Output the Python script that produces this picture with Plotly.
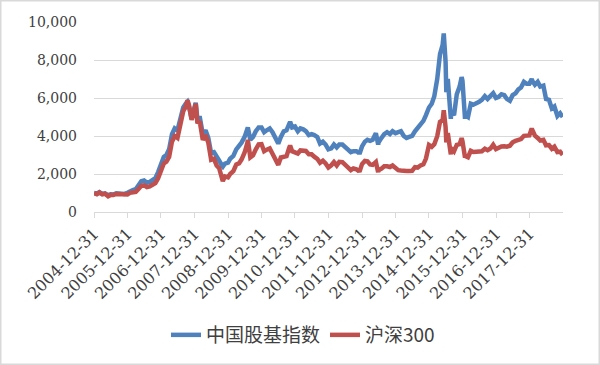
import plotly.graph_objects as go

dates = [
    "2004-12-31",
    "2005-01-31", "2005-02-28", "2005-03-31", "2005-04-29", "2005-05-31", "2005-06-03", "2005-06-30",
    "2005-07-29", "2005-08-31", "2005-09-30", "2005-10-31", "2005-11-30", "2005-12-30",
    "2006-01-26", "2006-02-28", "2006-03-31", "2006-04-28", "2006-05-31", "2006-06-30",
    "2006-07-31", "2006-08-31", "2006-09-29", "2006-10-31", "2006-11-30", "2006-12-29",
    "2007-01-31", "2007-02-28", "2007-03-30", "2007-04-30", "2007-05-30", "2007-06-29",
    "2007-07-31", "2007-08-31", "2007-09-28", "2007-10-16", "2007-10-31", "2007-11-30", "2007-12-28",
    "2008-01-14", "2008-01-31", "2008-02-29", "2008-03-31", "2008-04-30", "2008-05-30", "2008-06-30",
    "2008-07-31", "2008-08-29", "2008-09-26", "2008-10-31", "2008-11-04", "2008-11-28", "2008-12-31",
    "2009-01-23", "2009-02-27", "2009-03-31", "2009-04-30", "2009-05-27", "2009-06-30",
    "2009-07-31", "2009-08-04", "2009-08-31", "2009-09-30", "2009-10-30", "2009-11-30", "2009-12-31",
    "2010-01-29", "2010-02-26", "2010-03-31", "2010-04-30", "2010-05-31", "2010-06-30", "2010-07-02",
    "2010-07-30", "2010-08-31", "2010-09-30", "2010-10-29", "2010-11-08", "2010-11-30", "2010-12-31",
    "2011-01-31", "2011-02-28", "2011-03-31", "2011-04-29", "2011-05-31", "2011-06-30",
    "2011-07-29", "2011-08-31", "2011-09-30", "2011-10-31", "2011-11-30", "2011-12-30",
    "2012-01-31", "2012-02-29", "2012-03-30", "2012-04-27", "2012-05-31", "2012-06-29",
    "2012-07-31", "2012-08-31", "2012-09-28", "2012-10-31", "2012-11-30", "2012-12-03", "2012-12-31",
    "2013-01-31", "2013-02-28", "2013-03-29", "2013-04-26", "2013-05-31", "2013-06-25", "2013-06-28",
    "2013-07-31", "2013-08-30", "2013-09-30", "2013-10-31", "2013-11-29", "2013-12-31",
    "2014-01-30", "2014-02-28", "2014-03-31", "2014-04-30", "2014-05-30", "2014-06-30",
    "2014-07-31", "2014-08-29", "2014-09-30", "2014-10-31", "2014-11-28", "2014-12-31",
    "2015-01-30", "2015-02-27", "2015-03-31", "2015-04-30", "2015-05-29", "2015-06-10", "2015-06-30",
    "2015-07-08", "2015-07-24", "2015-07-31", "2015-08-26", "2015-08-31", "2015-09-30",
    "2015-10-30", "2015-11-30", "2015-12-22", "2015-12-31",
    "2016-01-28", "2016-01-29", "2016-02-29", "2016-03-31", "2016-04-29", "2016-05-31", "2016-06-30",
    "2016-07-29", "2016-08-31", "2016-09-30", "2016-10-31", "2016-11-30", "2016-12-30",
    "2017-01-26", "2017-02-28", "2017-03-31", "2017-04-28", "2017-05-31", "2017-06-30",
    "2017-07-31", "2017-08-31", "2017-09-29", "2017-10-31", "2017-11-30", "2017-12-29",
    "2018-01-24", "2018-01-31", "2018-02-28", "2018-03-30", "2018-04-27", "2018-05-31", "2018-06-29",
    "2018-07-31", "2018-08-31", "2018-09-28", "2018-10-31", "2018-11-30", "2018-12-28",
]

fund_index = [
    1000,
    960, 1040, 950, 980, 910, 880, 930,
    920, 990, 980, 940, 950, 1010,
    1100, 1150, 1200, 1380, 1620, 1660,
    1540, 1580, 1680, 1780, 2100, 2550,
    2900, 3000, 3300, 4100, 4400, 4300,
    4900, 5500, 5700, 5800, 5600, 4900, 5450,
    5750, 4950, 4950, 4100, 4300, 3900, 3100,
    3150, 2850, 2700, 2400, 2380, 2550, 2600,
    2800, 2950, 3300, 3450, 3650, 3950,
    4350, 4450, 3800, 3950, 4250, 4450, 4450,
    4200, 4300, 4400, 4200, 3900, 3650, 3600,
    3950, 4250, 4300, 4650, 4750, 4450, 4500,
    4250, 4400, 4350, 4250, 4050, 4100,
    4050, 3950, 3600, 3700, 3550, 3300,
    3350, 3550, 3400, 3550, 3550, 3400,
    3250, 3150, 3200, 3200, 3100, 3050, 3450,
    3700, 3800, 3750, 3800, 4150, 3550, 3650,
    3900, 4100, 4200, 4100, 4250, 4150,
    4200, 4250, 4000, 3900, 3950, 4000,
    4250, 4400, 4650, 4800, 5100, 5500,
    5700, 6100, 7000, 8300, 8800, 9400, 7900,
    6300, 7000, 6500, 4900, 5300, 5100,
    6200, 6600, 7100, 6900,
    4900, 5100, 5000, 5700, 5650, 5700, 5800,
    5900, 6100, 5950, 6100, 6250, 6000,
    6050, 6200, 6150, 5950, 5850, 6150,
    6250, 6450, 6550, 6850, 6750, 6750,
    7000, 6900, 6700, 6850, 6600, 6650, 5950,
    5900, 5450, 5550, 5050, 5200, 5000,
]

csi300 = [
    1000,
    940, 1030, 925, 960, 880, 830, 900,
    890, 950, 940, 890, 880, 923,
    1010, 1040, 1060, 1200, 1380, 1400,
    1310, 1350, 1440, 1520, 1780, 2200,
    2550, 2650, 2900, 3700, 4000, 3900,
    4550, 5300, 5550, 5880, 5650, 4850, 5350,
    5700, 4750, 4700, 3800, 4050, 3650, 2750,
    2800, 2450, 2300, 1700, 1630, 1870, 1820,
    2000, 2150, 2500, 2560, 2760, 3130,
    3650, 3800, 2880, 2990, 3300, 3560, 3575,
    3200, 3280, 3350, 3070, 2780, 2560, 2480,
    2870, 2900, 2940, 3380, 3500, 3200, 3130,
    3080, 3240, 3250, 3210, 3040, 3040,
    2910, 2800, 2590, 2700, 2550, 2345,
    2460, 2630, 2450, 2640, 2620, 2460,
    2330, 2200, 2290, 2250, 2140, 2110, 2520,
    2690, 2670, 2500, 2480, 2630, 2090, 2200,
    2280, 2410, 2410, 2370, 2450, 2330,
    2200, 2180, 2150, 2160, 2160, 2170,
    2360, 2340, 2450, 2510, 2810, 3530,
    3430, 3570, 3990, 4750, 4840, 5350, 4470,
    3660, 4150, 3820, 3030, 3370, 3200,
    3530, 3570, 3890, 3730,
    2860, 2950, 2880, 3220, 3160, 3170, 3150,
    3200, 3330, 3250, 3340, 3540, 3310,
    3390, 3450, 3460, 3440, 3490, 3670,
    3740, 3820, 3840, 4010, 4010, 4030,
    4390, 4280, 4020, 3900, 3760, 3800, 3510,
    3520, 3330, 3440, 3150, 3170, 3010,
]

series_names = ["中国股基指数", "沪深300"]
tick_dates = ["2004-12-31", "2005-12-31", "2006-12-31", "2007-12-31", "2008-12-31",
              "2009-12-31", "2010-12-31", "2011-12-31", "2012-12-31", "2013-12-31",
              "2014-12-31", "2015-12-31", "2016-12-31", "2017-12-31"]
y_ticks = [0, 2000, 4000, 6000, 8000, 10000]

fig = go.Figure()
fig.add_trace(go.Scatter(x=dates, y=fund_index, name=series_names[0], mode="lines",
                         line=dict(color="#4F81BD", width=4.5)))
fig.add_trace(go.Scatter(x=dates, y=csi300, name=series_names[1], mode="lines",
                         line=dict(color="#C0504D", width=4.5)))

L, R, T, B = 94, 37, 22, 153
W, H = 600, 365
pw, ph = W - L - R, H - T - B

fig.update_layout(
    width=W, height=H,
    margin=dict(l=L, r=R, t=T, b=B, autoexpand=False),
    paper_bgcolor="white", plot_bgcolor="white",
    showlegend=True,
    legend=dict(orientation="h", x=0.505, xanchor="center", xref="container",
                y=1 - 335 / H, yanchor="middle", yref="container",
                font=dict(family="Noto Sans CJK SC", size=19, color="#404040"),
                bgcolor="rgba(0,0,0,0)"),
    shapes=[dict(type="rect", xref="paper", yref="paper",
                 x0=(0.75 - L) / pw, x1=(W - 0.75 - L) / pw,
                 y0=(T + ph - (H - 0.75)) / ph, y1=(T + ph - 0.75) / ph,
                 line=dict(color="#D9D9D9", width=1.5), layer="below")],
)

fig.update_xaxes(
    type="date", range=["2004-12-31", "2018-12-31"],
    tickvals=tick_dates, ticktext=tick_dates, tickangle=-45,
    ticks="outside", ticklen=5, tickcolor="#D9D9D9",
    showline=True, linecolor="#D9D9D9", linewidth=1,
    showgrid=False, zeroline=False, automargin=False,
    tickfont=dict(family="DejaVu Serif", size=16, color="#404040"),
)
fig.update_yaxes(
    range=[0, 10000], tickvals=y_ticks, tickformat=",",
    showgrid=True, gridcolor="#D9D9D9", gridwidth=1,
    zeroline=False, showline=False, ticks="", automargin=False,
    ticklabelstandoff=16,
    tickfont=dict(family="DejaVu Serif", size=14, color="#404040"),
)

fig.write_html("out.html", config={"displayModeBar": False},
               post_script="document.body.style.margin='0px';document.body.style.overflow='hidden';")
